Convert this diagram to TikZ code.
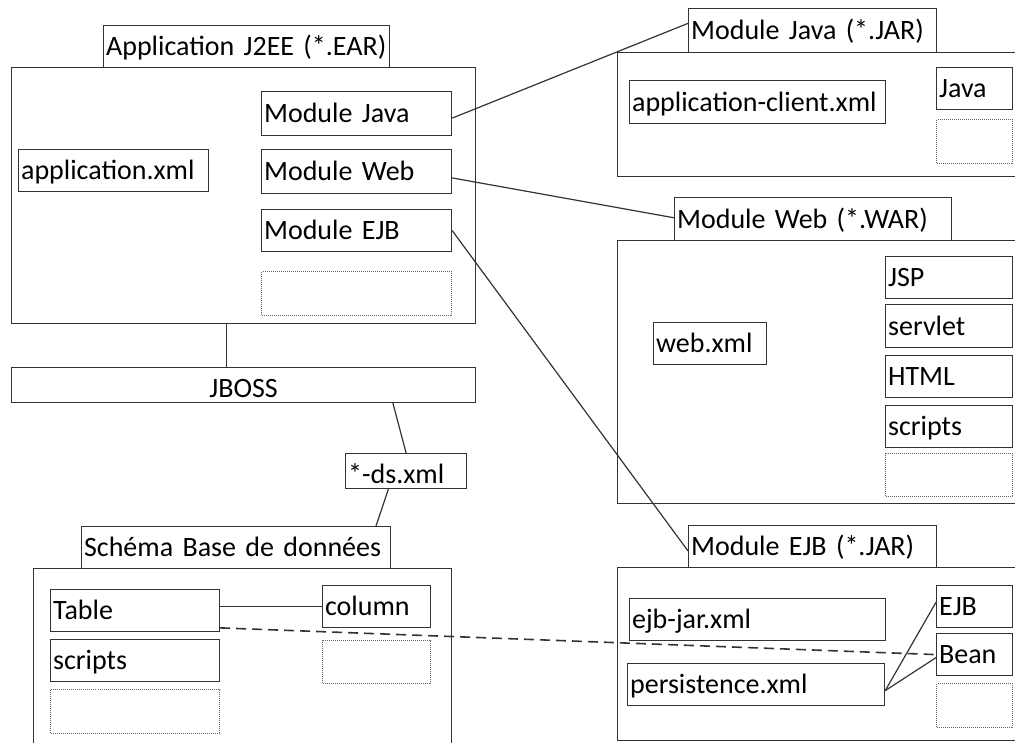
\documentclass[tikz,border=0pt]{standalone}
\usepackage{fontspec}
\setmainfont{Carlito}
\usetikzlibrary{calc}
\tikzset{
  boxst/.style={draw=black!80, line width=1.2pt, inner xsep=2pt, inner ysep=0pt, align=left,
    font=\fontsize{28}{32}\selectfont, text height=22pt, text depth=4pt},
  dotbox/.style={draw=black!60, line width=1pt, dash pattern=on 1pt off 1pt},
  conn/.style={draw=black!80, line width=1.2pt},
  dconn/.style={draw=black!80, line width=1.6pt, dash pattern=on 10pt off 6pt},
}
\newcommand\ebox[7][]{%
  \pgfmathsetmacro\myboxw{#4-#2}\pgfmathsetmacro\myboxh{#5-#3}\pgfmathsetmacro\mytextw{\myboxw-5}%
  \node[boxst,#1,anchor=north west,minimum width=\myboxw pt,minimum height=\myboxh pt,text width=\mytextw pt] (#6) at (#2,#3) {#7};}
\begin{document}
\begin{tikzpicture}[x=1pt,y=-1pt]
\useasboundingbox (0,0) rectangle (1015,742);
\clip (0,0) rectangle (1015,742);
% Application J2EE
\ebox{103}{25}{389}{67}{eart}{Application J2EE (*.EAR)}
\ebox{11}{67}{475}{323}{ear}{}
\ebox{18}{149}{208}{191}{appxml}{application.xml}
\ebox{261}{91}{451}{135}{mj}{Module Java}
\ebox{261}{149}{451}{193}{mw}{Module Web}
\ebox{261}{209}{451}{251}{me}{Module EJB}
\ebox[dotbox]{261}{271}{451}{315}{eardot}{}
% JBOSS
\ebox[align=center,text height=25pt,text depth=0pt]{11}{367}{475}{402}{jboss}{JBOSS}
\ebox[text height=24pt,text depth=0pt]{345}{453}{466}{488}{ds}{*-ds.xml}
% Schema
\ebox{81}{526}{390}{568}{scht}{Schéma Base de données}
\ebox{33}{568}{451}{770}{sch}{}
\ebox{50}{589}{219}{631}{tbl}{Table}
\ebox{50}{639}{219}{681}{sscr}{scripts}
\ebox[dotbox]{50}{689}{219}{733}{sdot1}{}
\ebox{322}{585}{430}{627}{col}{column}
\ebox[dotbox]{322}{640}{430}{683}{sdot2}{}
% Module Java JAR
\ebox{688}{8}{936}{52}{mjt}{Module Java (*.JAR)}
\ebox{617}{52}{1040}{176}{mjb}{}
\ebox{629}{80}{885}{123}{acx}{application-client.xml}
\ebox{936}{67}{1012}{109}{java}{Java}
\ebox[dotbox]{936}{119}{1012}{163}{jdot}{}
% Module Web WAR
\ebox{674}{197}{951}{240}{mwt}{Module Web (*.WAR)}
\ebox{617}{240}{1040}{503}{mwb}{}
\ebox{653}{322}{766}{364}{webxml}{web.xml}
\ebox{885}{256}{1012}{298}{jsp}{JSP}
\ebox{885}{304}{1012}{347}{servlet}{servlet}
\ebox{885}{355}{1012}{397}{html}{HTML}
\ebox{885}{405}{1012}{447}{wscr}{scripts}
\ebox[dotbox]{885}{453}{1012}{496}{wdot}{}
% Module EJB JAR
\ebox{688}{525}{936}{567}{met}{Module EJB (*.JAR)}
\ebox{617}{567}{1040}{740}{meb}{}
\ebox{629}{598}{885}{640}{ejbjar}{ejb-jar.xml}
\ebox{627}{663}{884}{705}{pers}{persistence.xml}
\ebox{936}{585}{1012}{627}{ejb}{EJB}
\ebox{936}{633}{1012}{675}{bean}{Bean}
\ebox[dotbox]{936}{683}{1012}{727}{edot}{}
% connectors
\coordinate (earout) at ($(ear.south west)!0.463!(ear.south east)$);
\draw[conn] (earout) -- (earout |- jboss.north);
\draw[conn] ($(jboss.south west)!0.821!(jboss.south east)$) -- (ds.north);
\draw[conn] ($(ds.south west)!0.355!(ds.south east)$) -- ($(scht.north west)!0.951!(scht.north east)$);
\draw[conn] (tbl.east |- col.west) -- (col.west);
\draw[dconn] ($(tbl.north east)!0.9!(tbl.south east)$) -- (bean.west);
\draw[conn] ($(mj.north east)!0.6!(mj.south east)$) -- ($(mjt.north west)!0.34!(mjt.south west)$);
\draw[conn] ($(mw.north east)!0.64!(mw.south east)$) -- ($(mwt.north west)!0.47!(mwt.south west)$);
\draw[conn] (me.east) -- ($(met.north west)!0.6!(met.south west)$);
\draw[conn] ($(pers.north east)!0.64!(pers.south east)$) -- ($(ejb.north west)!0.4!(ejb.south west)$);
\draw[conn] ($(pers.north east)!0.64!(pers.south east)$) -- ($(bean.north west)!0.57!(bean.south west)$);
\end{tikzpicture}
\end{document}
